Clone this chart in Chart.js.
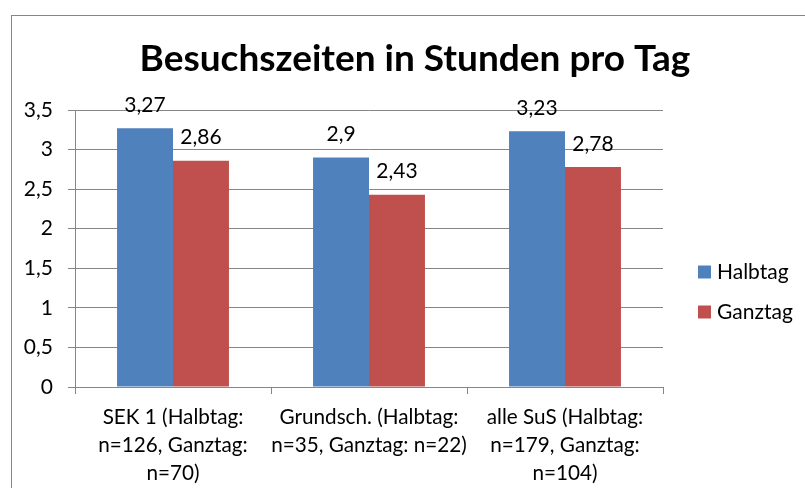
<!DOCTYPE html>
<html>
<head>
<meta charset="utf-8">
<script src="https://cdn.jsdelivr.net/npm/chart.js@4"></script>
<style>
  body { margin: 0; background: #fff; overflow: hidden; }
  #frame { position: absolute; left: 11px; top: 15px; width: 900px; height: 600px; border: 1px solid #868686; }
  #chart { position: absolute; left: 0; top: 0; }
</style>
</head>
<body>
<div id="frame"></div>
<canvas id="chart" width="805" height="488"></canvas>
<script>
var titleText = "Besuchszeiten in Stunden pro Tag";
var categories = [
  ["SEK 1 (Halbtag:", "n=126, Ganztag:", "n=70)"],
  ["Grundsch. (Halbtag:", "n=35, Ganztag: n=22)"],
  ["alle SuS (Halbtag:", "n=179, Ganztag:", "n=104)"]
];
var seriesNames = ["Halbtag", "Ganztag"];
var halbtag = [3.27, 2.9, 3.23];
var ganztag = [2.86, 2.43, 2.78];
var yMin = 0, yMax = 3.5, yStep = 0.5;

var colors = ["#4f81bd", "#c0504d"];
var fontFamily = "Lato, 'Noto Sans', sans-serif";
var grey = "#868686";

function fmt(v) {
  return String(v).replace(".", ",");
}

// value labels above the bars
var valueLabels = {
  id: "valueLabels",
  afterDatasetsDraw: function(chart) {
    var ctx = chart.ctx;
    ctx.save();
    ctx.font = "21px " + fontFamily;
    ctx.fillStyle = "#000";
    ctx.textAlign = "center";
    ctx.textBaseline = "middle";
    chart.data.datasets.forEach(function(ds, i) {
      chart.getDatasetMeta(i).data.forEach(function(bar, j) {
        ctx.fillText(fmt(ds.data[j]), bar.x, bar.y - 23);
      });
    });
    ctx.restore();
  }
};

// title and legend, placed like the spreadsheet chart
var titleAndLegend = {
  id: "titleAndLegend",
  afterDraw: function(chart) {
    var ctx = chart.ctx;
    ctx.save();
    ctx.fillStyle = "#000";
    ctx.textAlign = "center";
    ctx.textBaseline = "middle";
    ctx.font = "bold 37px " + fontFamily;
    ctx.fillText(titleText, 415, 59);

    ctx.font = "21px " + fontFamily;
    ctx.textAlign = "left";
    chart.data.datasets.forEach(function(ds, i) {
      var y = 272 + i * 40;
      ctx.fillStyle = ds.backgroundColor;
      ctx.fillRect(698, y - 6.5, 13, 13);
      ctx.fillStyle = "#000";
      ctx.fillText(ds.label, 717, y);
    });
    ctx.restore();
  }
};

new Chart(document.getElementById("chart"), {
  type: "bar",
  data: {
    labels: categories,
    datasets: [
      { label: seriesNames[0], data: halbtag, backgroundColor: colors[0] },
      { label: seriesNames[1], data: ganztag, backgroundColor: colors[1] }
    ]
  },
  options: {
    responsive: false,
    animation: false,
    layout: { padding: { left: 0, right: 142, top: 110, bottom: 0 } },
    datasets: {
      bar: { categoryPercentage: 0.571, barPercentage: 1.0, borderWidth: 0 }
    },
    plugins: {
      legend: { display: false },
      title: { display: false },
      tooltip: { enabled: false }
    },
    scales: {
      x: {
        grid: { drawOnChartArea: false, drawTicks: true, tickLength: 7, color: grey },
        border: { color: grey },
        ticks: {
          color: "#000",
          font: { family: fontFamily, size: 20.7, lineHeight: "28px" },
          padding: 9,
          maxRotation: 0,
          autoSkip: false
        },
        afterFit: function(scale) { scale.height = 101; }
      },
      y: {
        min: yMin,
        max: yMax,
        grid: { color: grey, tickLength: 7 },
        border: { color: grey },
        ticks: {
          stepSize: yStep,
          color: "#000",
          font: { family: fontFamily, size: 21 },
          padding: 15,
          callback: function(v) { return fmt(v); }
        },
        afterFit: function(scale) { scale.width = 75; }
      }
    }
  },
  plugins: [valueLabels, titleAndLegend]
});
</script>
</body>
</html>
